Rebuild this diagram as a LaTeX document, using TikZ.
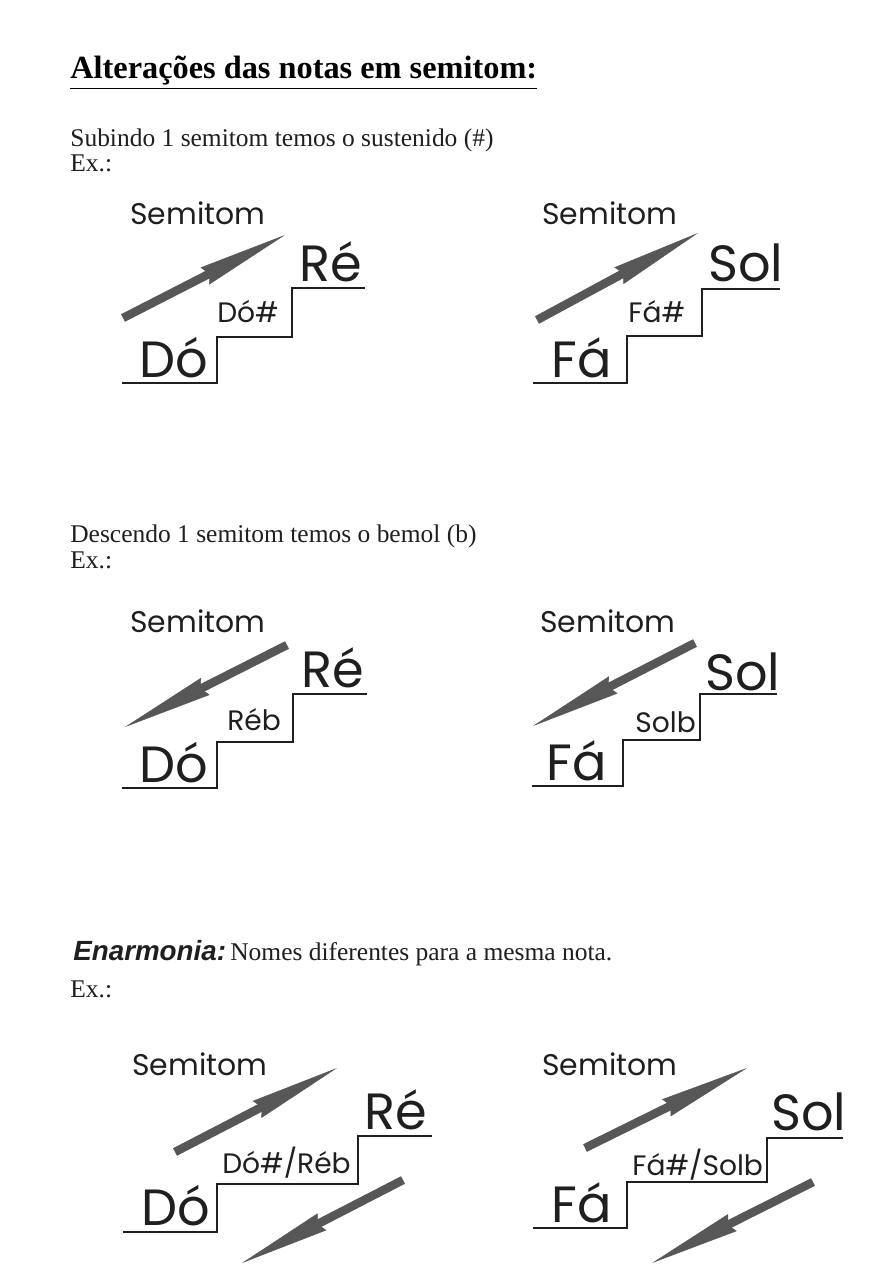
\documentclass[tikz,border=0pt]{standalone}
\usepackage{fontspec}
\setmainfont{Liberation Serif}
\newfontfamily\notefont{Poppins}
\newfontfamily\headfont{Liberation Sans}
\usepackage{tikz}
\usetikzlibrary{arrows.meta}
\colorlet{ink}{black!88}
\colorlet{arrowgray}{black!66}
\tikzset{
  title/.style    ={anchor=base west, inner sep=0pt,
                    font=\bfseries\fontsize{18.4}{21}\selectfont},
  body/.style     ={anchor=base west, inner sep=0pt, text=ink,
                    font=\fontsize{14.5}{17}\selectfont},
  semi/.style     ={anchor=base west, inner sep=0pt, text=ink,
                    font=\notefont\fontsize{17}{20}\selectfont},
  notebig/.style  ={anchor=base west, inner sep=0pt, text=ink,
                    font=\notefont\fontsize{29}{33}\selectfont},
  notesmall/.style={anchor=base west, inner sep=0pt, text=ink,
                    font=\notefont\fontsize{16}{19}\selectfont},
  stair/.style    ={draw=ink, line width=0.9pt},
  semiarrow/.style={arrowgray, line width=0.17cm,
                    -{Stealth[length=1.8cm, width=0.38cm, inset=0.1cm,
                      line width=0.3pt]}},
}

\begin{document}
\begin{tikzpicture}[x=0.02cm, y=-0.02cm]
\useasboundingbox[fill=white] (0,0) rectangle (886,1280);

% --- headings ---
\node[title] (title) at (70,79) {\underline{Altera\c{c}\~oes das notas em semitom:}};
\node[body] (sub)  at (70,147) {Subindo 1 semitom temos o sustenido (\#)};
\node[body] (ex1)  at (70,172) {Ex.:};

% --- sustenido: Do -> Do# -> Re ---
\node[semi]      (s1)   at (130,225) {Semitom};
\node[notebig]   (do1)  at (139,377) {Dó};
\node[notesmall] (dos1) at (217,322) {Dó\#};
\node[notebig]   (re1)  at (299,282) {Ré};
\draw[stair] (122,383) -| (217,337) -| (292,288) -- (365,288);
\coordinate (a1s) at (123,318);
\coordinate (a1e) at (285,235);
\draw[semiarrow] (a1s) -- (a1e);

% --- sustenido: Fa -> Fa# -> Sol ---
\node[semi]      (s2)   at (542,225) {Semitom};
\node[notebig]   (fa2)  at (551,377) {Fá};
\node[notesmall] (fas2) at (628,322) {Fá\#};
\node[notebig]   (sol2) at (708,282) {Sol};
\draw[stair] (533,383) -| (627,336) -| (702,289) -- (780,289);
\coordinate (a2s) at (537,320);
\coordinate (a2e) at (698,233);
\draw[semiarrow] (a2s) -- (a2e);

% --- bemol ---
\node[body] (sub2) at (70,542) {Descendo 1 semitom temos o bemol (b)};
\node[body] (ex2)  at (70,568) {Ex.:};

% --- bemol: Re -> Reb -> Do ---
\node[semi]      (s3)   at (130,632) {Semitom};
\node[notebig]   (do3)  at (139,782) {Dó};
\node[notesmall] (reb3) at (227,730) {Réb};
\node[notebig]   (re3)  at (301,687) {Ré};
\draw[stair] (122,788) -| (217,742) -| (293,694) -- (367,694);
\coordinate (a3s) at (287,645);
\coordinate (a3e) at (125,727);
\draw[semiarrow] (a3s) -- (a3e);

% --- bemol: Sol -> Solb -> Fa ---
\node[semi]      (s4)    at (540,632) {Semitom};
\node[notebig]   (fa4)   at (546,780) {Fá};
\node[notesmall] (solb4) at (635,732) {Solb};
\node[notebig]   (sol4)  at (705,690) {Sol};
\draw[stair] (532,786) -| (623,740) -| (700,694) -- (777,694);
\coordinate (a4s) at (695,643);
\coordinate (a4e) at (533,726);
\draw[semiarrow] (a4s) -- (a4e);

% --- enarmonia ---
\node[body] (sub3) at (73,960)
  {{\headfont\bfseries\itshape\fontsize{15.8}{18}\selectfont Enarmonia:}\,Nomes diferentes para a mesma nota.};
\node[body] (ex3)  at (70,997) {Ex.:};

% --- enarmonia: Do#/Reb ---
\node[semi]      (s5)  at (132,1075) {Semitom};
\node[notebig]   (do5) at (141,1225) {Dó};
\node[notesmall] (en5) at (222,1173) {Dó\#/Réb};
\node[notebig]   (re5) at (364,1129) {Ré};
\draw[stair] (123,1232) -| (217,1184) -| (358,1136) -- (432,1136);
\coordinate (a5s) at (175,1152);
\coordinate (a5e) at (337,1068);
\draw[semiarrow] (a5s) -- (a5e);
\coordinate (b5s) at (403,1180);
\coordinate (b5e) at (242,1263);
\draw[semiarrow] (b5s) -- (b5e);

% --- enarmonia: Fa#/Solb ---
\node[semi]      (s6)   at (542,1075) {Semitom};
\node[notebig]   (fa6)  at (551,1222) {Fá};
\node[notesmall] (en6)  at (632,1175) {Fá\#/Solb};
\node[notebig]   (sol6) at (771,1130) {Sol};
\draw[stair] (533,1228) -| (627,1182) -| (767,1138) -- (843,1138);
\coordinate (a6s) at (585,1148);
\coordinate (a6e) at (747,1068);
\draw[semiarrow] (a6s) -- (a6e);
\coordinate (b6s) at (813,1182);
\coordinate (b6e) at (652,1263);
\draw[semiarrow] (b6s) -- (b6e);

\end{tikzpicture}
\end{document}
